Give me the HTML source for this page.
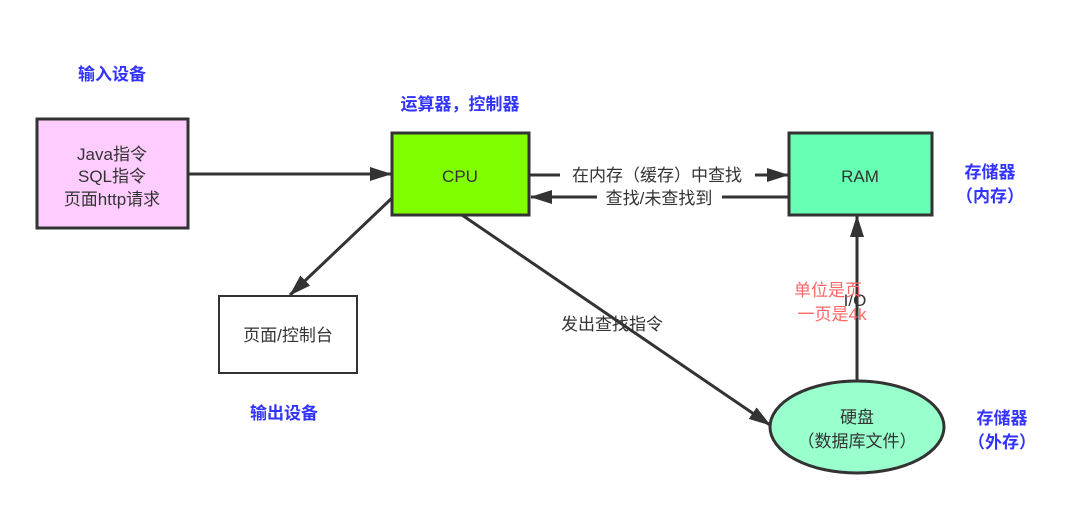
<!DOCTYPE html>
<html><head><meta charset="utf-8"><style>
body{margin:0;background:#fff;width:1080px;height:510px;overflow:hidden}
svg text{font-family:"Liberation Sans","Noto Sans CJK SC",sans-serif}
</style></head><body>
<svg width="1080" height="510" xmlns="http://www.w3.org/2000/svg">
<defs><marker id="a" markerWidth="10" markerHeight="10" refX="9" refY="5" orient="auto" markerUnits="userSpaceOnUse"><path d="M0,0 L10,5 L0,10 z" fill="#333"/></marker>
<marker id="b" markerWidth="22" markerHeight="14" refX="21" refY="7" orient="auto" markerUnits="userSpaceOnUse"><path d="M0,0 L22,7 L0,14 z" fill="#333"/></marker></defs>
<g stroke="#333" stroke-width="3" fill="none">
<line x1="188" y1="174" x2="391" y2="174" marker-end="url(#b)"/>
<line x1="530" y1="175" x2="788" y2="175" marker-end="url(#b)"/>
<line x1="788" y1="197" x2="531" y2="197" marker-end="url(#b)"/>
<line x1="392" y1="198" x2="290" y2="295" marker-end="url(#b)"/>
<line x1="462" y1="215" x2="770" y2="425" marker-end="url(#b)"/>
<line x1="857" y1="380" x2="857" y2="216" marker-end="url(#b)"/>
</g>
<rect x="37" y="119" width="151" height="109" fill="#ffccff" stroke="#333" stroke-width="3"/>
<rect x="392" y="133" width="137" height="82" fill="#80ff00" stroke="#333" stroke-width="3"/>
<rect x="789" y="133" width="143" height="82" fill="#66ffb3" stroke="#333" stroke-width="3"/>
<rect x="219" y="296" width="138" height="77" fill="#fff" stroke="#333" stroke-width="2"/>
<ellipse cx="857" cy="427" rx="87" ry="46" fill="#99ffcc" stroke="#333" stroke-width="3"/>
<g font-size="17" fill="#333" text-anchor="middle">
<text x="112" y="160">Java指令</text><text x="112" y="182">SQL指令</text><text x="112" y="205">页面http请求</text>
<text x="460" y="182">CPU</text><text x="860" y="182">RAM</text>
<text x="288" y="341">页面/控制台</text>
<text x="857" y="423">硬盘</text><text x="857" y="447">（数据库文件）</text>
<rect x="560" y="164" width="195" height="22" fill="#fff"/>
<text x="657" y="181">在内存（缓存）中查找</text>
<rect x="597" y="187" width="125" height="20" fill="#fff"/>
<text x="659" y="204">查找/未查找到</text>
<text x="612" y="330">发出查找指令</text>
<text x="855" y="306">I/O</text>
</g>
<g font-size="17" fill="#ff6666" text-anchor="middle">
<text x="828" y="296">单位是页</text><text x="832" y="320">一页是4k</text>
</g>
<g font-size="17" font-weight="bold" fill="#3333ff" text-anchor="middle">
<text x="112" y="80">输入设备</text>
<text x="460" y="110">运算器，控制器</text>
<text x="284" y="419">输出设备</text>
<text x="990" y="178">存储器</text><text x="990" y="202">（内存）</text>
<text x="1002" y="424">存储器</text><text x="1002" y="448">（外存）</text>
</g>
</svg>
</body></html>
